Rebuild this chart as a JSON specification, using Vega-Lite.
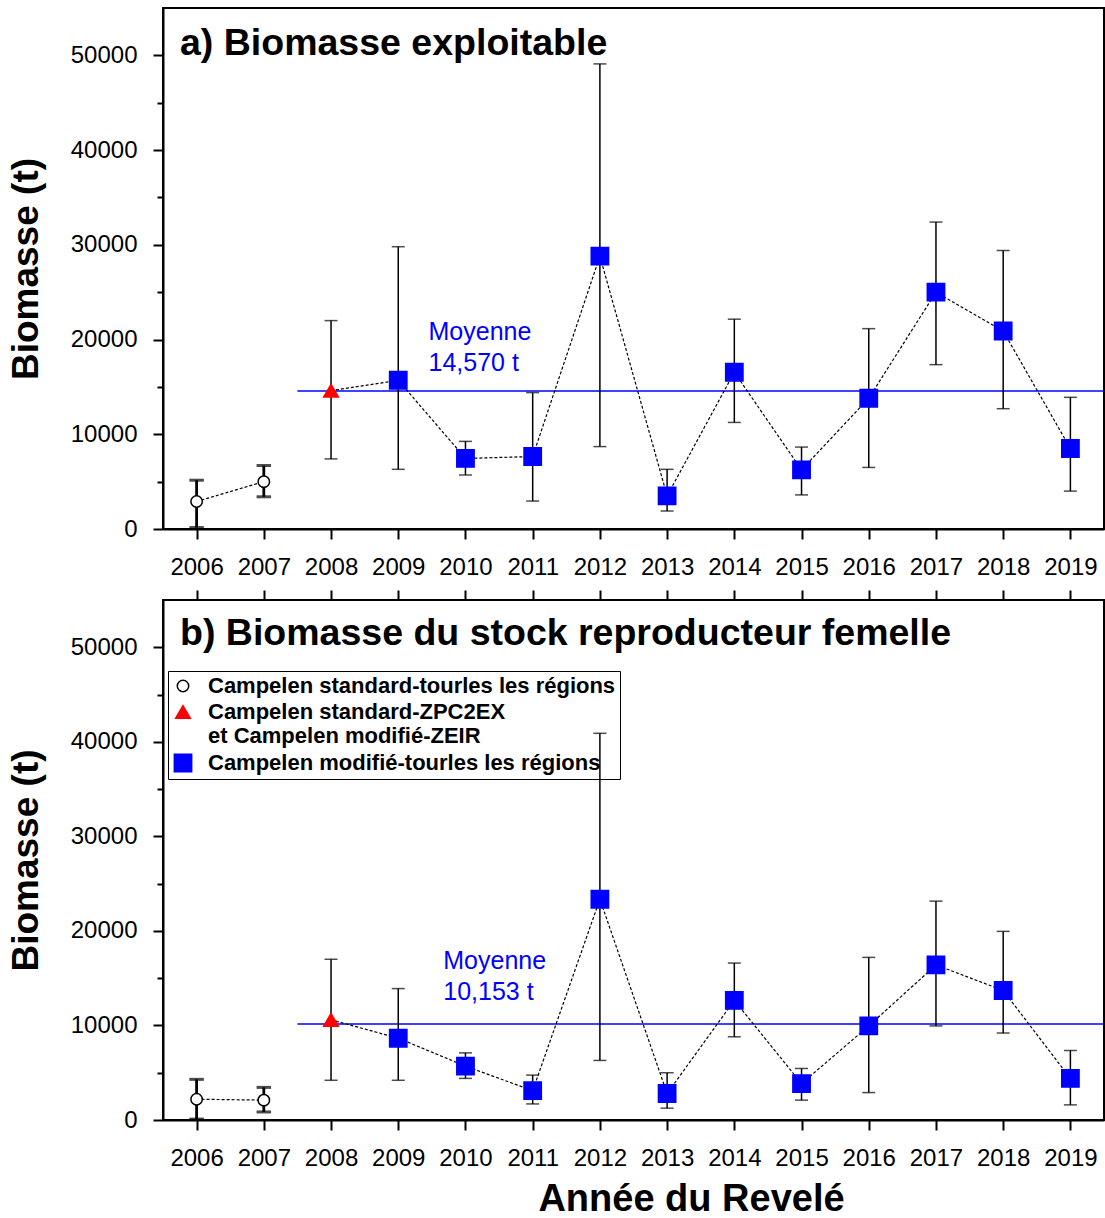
{
  "$schema": "https://vega.github.io/schema/vega-lite/v6.json",
  "padding": {"left": 6, "top": 7, "right": 0, "bottom": 0},
  "background": "white",
  "config": {
    "font": "Liberation Sans",
    "view": {"stroke": "black", "strokeWidth": 2},
    "axis": {
      "domainColor": "black", "domainWidth": 2, "tickColor": "black", "tickWidth": 2,
      "labelColor": "black", "titleColor": "black", "grid": false,
      "labelFont": "Liberation Sans", "titleFont": "Liberation Sans", "labelFontSize": 24
    }
  },
  "datasets": {
    "biomass": [
      {"panel": "a", "year": 2006, "value": 2900, "lo": 150, "hi": 5150, "period": "2006-2007", "series": "Campelen standard-tourles les régions"},
      {"panel": "a", "year": 2007, "value": 5000, "lo": 3400, "hi": 6700, "period": "2006-2007", "series": "Campelen standard-tourles les régions"},
      {"panel": "a", "year": 2008, "value": 14600, "lo": 7400, "hi": 22000, "period": "2008-2019", "series": "Campelen standard-ZPC2EX et Campelen modifié-ZEIR"},
      {"panel": "a", "year": 2009, "value": 15700, "lo": 6300, "hi": 29800, "period": "2008-2019", "series": "Campelen modifié-tourles les régions"},
      {"panel": "a", "year": 2010, "value": 7450, "lo": 5700, "hi": 9250, "period": "2008-2019", "series": "Campelen modifié-tourles les régions"},
      {"panel": "a", "year": 2011, "value": 7650, "lo": 2950, "hi": 14400, "period": "2008-2019", "series": "Campelen modifié-tourles les régions"},
      {"panel": "a", "year": 2012, "value": 28800, "lo": 8700, "hi": 49100, "period": "2008-2019", "series": "Campelen modifié-tourles les régions"},
      {"panel": "a", "year": 2013, "value": 3500, "lo": 1900, "hi": 6300, "period": "2008-2019", "series": "Campelen modifié-tourles les régions"},
      {"panel": "a", "year": 2014, "value": 16550, "lo": 11250, "hi": 22150, "period": "2008-2019", "series": "Campelen modifié-tourles les régions"},
      {"panel": "a", "year": 2015, "value": 6250, "lo": 3600, "hi": 8650, "period": "2008-2019", "series": "Campelen modifié-tourles les régions"},
      {"panel": "a", "year": 2016, "value": 13800, "lo": 6500, "hi": 21150, "period": "2008-2019", "series": "Campelen modifié-tourles les régions"},
      {"panel": "a", "year": 2017, "value": 25000, "lo": 17350, "hi": 32400, "period": "2008-2019", "series": "Campelen modifié-tourles les régions"},
      {"panel": "a", "year": 2018, "value": 20900, "lo": 12700, "hi": 29400, "period": "2008-2019", "series": "Campelen modifié-tourles les régions"},
      {"panel": "a", "year": 2019, "value": 8500, "lo": 4000, "hi": 13900, "period": "2008-2019", "series": "Campelen modifié-tourles les régions"},
      {"panel": "b", "year": 2006, "value": 2200, "lo": 100, "hi": 4300, "period": "2006-2007", "series": "Campelen standard-tourles les régions"},
      {"panel": "b", "year": 2007, "value": 2100, "lo": 850, "hi": 3450, "period": "2006-2007", "series": "Campelen standard-tourles les régions"},
      {"panel": "b", "year": 2008, "value": 10600, "lo": 4200, "hi": 17000, "period": "2008-2019", "series": "Campelen standard-ZPC2EX et Campelen modifié-ZEIR"},
      {"panel": "b", "year": 2009, "value": 8650, "lo": 4200, "hi": 13900, "period": "2008-2019", "series": "Campelen modifié-tourles les régions"},
      {"panel": "b", "year": 2010, "value": 5700, "lo": 4400, "hi": 7100, "period": "2008-2019", "series": "Campelen modifié-tourles les régions"},
      {"panel": "b", "year": 2011, "value": 3100, "lo": 1700, "hi": 4750, "period": "2008-2019", "series": "Campelen modifié-tourles les régions"},
      {"panel": "b", "year": 2012, "value": 23350, "lo": 6300, "hi": 40900, "period": "2008-2019", "series": "Campelen modifié-tourles les régions"},
      {"panel": "b", "year": 2013, "value": 2800, "lo": 1250, "hi": 5000, "period": "2008-2019", "series": "Campelen modifié-tourles les régions"},
      {"panel": "b", "year": 2014, "value": 12650, "lo": 8800, "hi": 16600, "period": "2008-2019", "series": "Campelen modifié-tourles les régions"},
      {"panel": "b", "year": 2015, "value": 3850, "lo": 2100, "hi": 5450, "period": "2008-2019", "series": "Campelen modifié-tourles les régions"},
      {"panel": "b", "year": 2016, "value": 9950, "lo": 2900, "hi": 17200, "period": "2008-2019", "series": "Campelen modifié-tourles les régions"},
      {"panel": "b", "year": 2017, "value": 16400, "lo": 9950, "hi": 23150, "period": "2008-2019", "series": "Campelen modifié-tourles les régions"},
      {"panel": "b", "year": 2018, "value": 13700, "lo": 9200, "hi": 19950, "period": "2008-2019", "series": "Campelen modifié-tourles les régions"},
      {"panel": "b", "year": 2019, "value": 4400, "lo": 1600, "hi": 7350, "period": "2008-2019", "series": "Campelen modifié-tourles les régions"}
    ],
    "means": [
      {"panel": "a", "mean": 14570, "start": 2007.5, "end": 2019.5},
      {"panel": "b", "mean": 10153, "start": 2007.5, "end": 2019.5}
    ],
    "titles": [
      {"panel": "a", "title": "a) Biomasse exploitable"},
      {"panel": "b", "title": "b) Biomasse du stock reproducteur femelle"}
    ]
  },
  "spacing": 71,
  "bounds": "flush",
  "resolve": {"legend": {"shape": "independent", "fill": "independent", "stroke": "independent", "size": "independent"}},
  "vconcat": [
    {
      "width": 941,
      "height": 521,
      "resolve": {"axis": {"x": "independent", "y": "independent"}},
      "layer": [
        {
          "data": {"name": "titles"},
          "transform": [{"filter": "datum.panel === 'a'"}],
          "mark": {"type": "text", "align": "left", "baseline": "alphabetic", "fontSize": 37.5, "fontWeight": "bold", "color": "black", "dx": 17, "dy": 47},
          "encoding": {
            "x": {"datum": 2005.5, "type": "quantitative", "scale": {"domain": [2005.5, 2019.5], "nice": false, "zero": false}, "axis": null},
            "y": {"datum": 55000, "type": "quantitative", "scale": {"domain": [0, 55000], "nice": false}, "axis": null},
            "text": {"field": "title"}
          }
        },
        {
          "data": {"name": "means"},
          "transform": [{"filter": "datum.panel === 'a'"}],
          "mark": {"type": "rule", "color": "blue", "strokeWidth": 1.5},
          "encoding": {
            "x": {"field": "start", "type": "quantitative", "scale": {"domain": [2005.5, 2019.5], "nice": false, "zero": false}, "axis": null},
            "x2": {"field": "end"},
            "y": {"field": "mean", "type": "quantitative", "scale": {"domain": [0, 55000], "nice": false}, "axis": null}
          }
        },
        {
          "data": {"name": "means"},
          "transform": [
            {"filter": "datum.panel === 'a'"},
            {"calculate": "'Moyenne\\n' + format(datum.mean, ',') + ' t'", "as": "label"}
          ],
          "mark": {"type": "text", "align": "left", "baseline": "alphabetic", "lineBreak": "\n", "lineHeight": 31, "fontSize": 25, "color": "blue", "dy": -51},
          "encoding": {
            "x": {"datum": 2009.45, "type": "quantitative", "scale": {"domain": [2005.5, 2019.5], "nice": false, "zero": false}, "axis": null},
            "y": {"field": "mean", "type": "quantitative", "scale": {"domain": [0, 55000], "nice": false}, "axis": null},
            "text": {"field": "label"}
          }
        },
        {
          "data": {"name": "biomass"},
          "transform": [{"filter": "datum.panel === 'a'"}],
          "mark": {"type": "rule", "color": "black"},
          "encoding": {
            "x": {"field": "year", "type": "quantitative", "scale": {"domain": [2005.5, 2019.5], "nice": false, "zero": false}, "axis": null},
            "y": {"field": "lo", "type": "quantitative", "scale": {"domain": [0, 55000], "nice": false}, "axis": null},
            "y2": {"field": "hi"},
            "strokeWidth": {"condition": {"test": "datum.series === 'Campelen standard-tourles les régions'", "value": 2.8}, "value": 1.5}
          }
        },
        {
          "data": {"name": "biomass"},
          "transform": [{"filter": "datum.panel === 'a'"}, {"fold": ["lo", "hi"], "as": ["end", "cap"]}],
          "mark": {"type": "tick", "orient": "horizontal", "color": "black", "stroke": "black", "thickness": 1.5, "size": 13},
          "encoding": {
            "x": {"field": "year", "type": "quantitative", "scale": {"domain": [2005.5, 2019.5], "nice": false, "zero": false}, "axis": null},
            "y": {"field": "cap", "type": "quantitative", "scale": {"domain": [0, 55000], "nice": false}, "axis": null},
            "strokeWidth": {"condition": {"test": "datum.series === 'Campelen standard-tourles les régions'", "value": 1.5}, "value": 0}
          }
        },
        {
          "data": {"name": "biomass"},
          "transform": [{"filter": "datum.panel === 'a'"}],
          "mark": {"type": "line", "color": "black", "strokeWidth": 1.2, "strokeDash": [3, 2]},
          "encoding": {
            "x": {"field": "year", "type": "quantitative", "scale": {"domain": [2005.5, 2019.5], "nice": false, "zero": false}, "axis": null},
            "y": {"field": "value", "type": "quantitative", "scale": {"domain": [0, 55000], "nice": false}, "axis": null},
            "detail": {"field": "period", "type": "nominal"}
          }
        },
        {
          "data": {"name": "biomass"},
          "transform": [{"filter": "datum.panel === 'a'"}],
          "mark": {"type": "point", "filled": true, "opacity": 1, "strokeWidth": 1.5},
          "encoding": {
            "x": {"field": "year", "type": "quantitative", "scale": {"domain": [2005.5, 2019.5], "nice": false, "zero": false},
              "axis": {"orient": "bottom", "values": [2006, 2007, 2008, 2009, 2010, 2011, 2012, 2013, 2014, 2015, 2016, 2017, 2018, 2019], "format": "d", "title": null, "tickSize": 10, "labelPadding": 16, "labelFlush": false, "labelOverlap": false}},
            "y": {"field": "value", "type": "quantitative", "scale": {"domain": [0, 55000], "nice": false},
              "axis": {"orient": "left", "values": [0, 5000, 10000, 15000, 20000, 25000, 30000, 35000, 40000, 45000, 50000], "format": "d",
                "labelExpr": "datum.value % 10000 === 0 ? datum.label : ''",
                "tickSize": {"condition": {"test": "datum.value % 10000 === 0", "value": 10}, "value": 6},
                "title": "Biomasse (t)", "titleFontSize": 37, "titleFontWeight": "bold", "titlePadding": 25, "labelPadding": 16}},
            "shape": {"field": "series", "type": "nominal", "scale": {"domain": ["Campelen standard-tourles les régions", "Campelen standard-ZPC2EX et Campelen modifié-ZEIR", "Campelen modifié-tourles les régions"], "range": ["circle", "triangle-up", "square"]}, "legend": null},
            "fill": {"field": "series", "type": "nominal", "scale": {"domain": ["Campelen standard-tourles les régions", "Campelen standard-ZPC2EX et Campelen modifié-ZEIR", "Campelen modifié-tourles les régions"], "range": ["white", "red", "blue"]}, "legend": null},
            "stroke": {"field": "series", "type": "nominal", "scale": {"domain": ["Campelen standard-tourles les régions", "Campelen standard-ZPC2EX et Campelen modifié-ZEIR", "Campelen modifié-tourles les régions"], "range": ["black", "red", "blue"]}, "legend": null},
            "size": {"field": "series", "type": "nominal", "scale": {"domain": ["Campelen standard-tourles les régions", "Campelen standard-ZPC2EX et Campelen modifié-ZEIR", "Campelen modifié-tourles les régions"], "range": [130, 300, 200]}, "legend": null}
          }
        }
      ]
    },
    {
      "width": 941,
      "height": 520,
      "resolve": {"axis": {"x": "independent", "y": "independent"}},
      "layer": [
        {
          "data": {"name": "titles"},
          "transform": [{"filter": "datum.panel === 'b'"}],
          "mark": {"type": "text", "align": "left", "baseline": "alphabetic", "fontSize": 37.5, "fontWeight": "bold", "color": "black", "dx": 17, "dy": 45},
          "encoding": {
            "x": {"datum": 2005.5, "type": "quantitative", "scale": {"domain": [2005.5, 2019.5], "nice": false, "zero": false}, "axis": null},
            "y": {"datum": 55000, "type": "quantitative", "scale": {"domain": [0, 55000], "nice": false}, "axis": null},
            "text": {"field": "title"}
          }
        },
        {
          "data": {"name": "means"},
          "transform": [{"filter": "datum.panel === 'b'"}],
          "mark": {"type": "rule", "color": "blue", "strokeWidth": 1.5},
          "encoding": {
            "x": {"field": "start", "type": "quantitative", "scale": {"domain": [2005.5, 2019.5], "nice": false, "zero": false}, "axis": null},
            "x2": {"field": "end"},
            "y": {"field": "mean", "type": "quantitative", "scale": {"domain": [0, 55000], "nice": false}, "axis": null}
          }
        },
        {
          "data": {"name": "means"},
          "transform": [
            {"filter": "datum.panel === 'b'"},
            {"calculate": "'Moyenne\\n' + format(datum.mean, ',') + ' t'", "as": "label"}
          ],
          "mark": {"type": "text", "align": "left", "baseline": "alphabetic", "lineBreak": "\n", "lineHeight": 31, "fontSize": 25, "color": "blue", "dy": -55},
          "encoding": {
            "x": {"datum": 2009.67, "type": "quantitative", "scale": {"domain": [2005.5, 2019.5], "nice": false, "zero": false}, "axis": null},
            "y": {"field": "mean", "type": "quantitative", "scale": {"domain": [0, 55000], "nice": false}, "axis": null},
            "text": {"field": "label"}
          }
        },
        {
          "data": {"name": "biomass"},
          "transform": [{"filter": "datum.panel === 'b'"}],
          "mark": {"type": "rule", "color": "black"},
          "encoding": {
            "x": {"field": "year", "type": "quantitative", "scale": {"domain": [2005.5, 2019.5], "nice": false, "zero": false}, "axis": null},
            "y": {"field": "lo", "type": "quantitative", "scale": {"domain": [0, 55000], "nice": false}, "axis": null},
            "y2": {"field": "hi"},
            "strokeWidth": {"condition": {"test": "datum.series === 'Campelen standard-tourles les régions'", "value": 2.8}, "value": 1.5}
          }
        },
        {
          "data": {"name": "biomass"},
          "transform": [{"filter": "datum.panel === 'b'"}, {"fold": ["lo", "hi"], "as": ["end", "cap"]}],
          "mark": {"type": "tick", "orient": "horizontal", "color": "black", "stroke": "black", "thickness": 1.5, "size": 13},
          "encoding": {
            "x": {"field": "year", "type": "quantitative", "scale": {"domain": [2005.5, 2019.5], "nice": false, "zero": false},
              "axis": {"orient": "top", "values": [2006, 2007, 2008, 2009, 2010, 2011, 2012, 2013, 2014, 2015, 2016, 2017, 2018, 2019], "labels": false, "domain": false, "tickSize": 10, "title": null}},
            "y": {"field": "cap", "type": "quantitative", "scale": {"domain": [0, 55000], "nice": false}, "axis": null},
            "strokeWidth": {"condition": {"test": "datum.series === 'Campelen standard-tourles les régions'", "value": 1.5}, "value": 0}
          }
        },
        {
          "data": {"name": "biomass"},
          "transform": [{"filter": "datum.panel === 'b'"}],
          "mark": {"type": "line", "color": "black", "strokeWidth": 1.2, "strokeDash": [3, 2]},
          "encoding": {
            "x": {"field": "year", "type": "quantitative", "scale": {"domain": [2005.5, 2019.5], "nice": false, "zero": false}, "axis": null},
            "y": {"field": "value", "type": "quantitative", "scale": {"domain": [0, 55000], "nice": false}, "axis": null},
            "detail": {"field": "period", "type": "nominal"}
          }
        },
        {
          "data": {"name": "biomass"},
          "transform": [{"filter": "datum.panel === 'b'"}],
          "mark": {"type": "point", "filled": true, "opacity": 1, "strokeWidth": 1.5},
          "encoding": {
            "x": {"field": "year", "type": "quantitative", "scale": {"domain": [2005.5, 2019.5], "nice": false, "zero": false},
              "axis": {"orient": "bottom", "values": [2006, 2007, 2008, 2009, 2010, 2011, 2012, 2013, 2014, 2015, 2016, 2017, 2018, 2019], "format": "d", "tickSize": 10, "labelPadding": 16, "labelFlush": false, "labelOverlap": false,
                "title": "Année du Revelé", "titleFontSize": 38, "titleFontWeight": "bold", "titleX": 528, "titlePadding": 10}},
            "y": {"field": "value", "type": "quantitative", "scale": {"domain": [0, 55000], "nice": false},
              "axis": {"orient": "left", "values": [0, 5000, 10000, 15000, 20000, 25000, 30000, 35000, 40000, 45000, 50000], "format": "d",
                "labelExpr": "datum.value % 10000 === 0 ? datum.label : ''",
                "tickSize": {"condition": {"test": "datum.value % 10000 === 0", "value": 10}, "value": 6},
                "title": "Biomasse (t)", "titleFontSize": 37, "titleFontWeight": "bold", "titlePadding": 25, "labelPadding": 16}},
            "shape": {"field": "series", "type": "nominal", "scale": {"domain": ["Campelen standard-tourles les régions", "Campelen standard-ZPC2EX et Campelen modifié-ZEIR", "Campelen modifié-tourles les régions"], "range": ["circle", "triangle-up", "square"]},
              "legend": {"title": null, "orient": "none", "legendX": 5, "legendY": 71, "direction": "vertical", "labelFontSize": 22, "labelFontWeight": "bold", "labelLimit": 600, "labelOffset": 14, "padding": 4, "rowPadding": 4, "strokeColor": "black", "symbolStrokeWidth": 1.5,
                "labelExpr": "datum.label === 'Campelen standard-ZPC2EX et Campelen modifié-ZEIR' ? ['Campelen standard-ZPC2EX', 'et Campelen modifié-ZEIR'] : datum.label"}},
            "fill": {"field": "series", "type": "nominal", "scale": {"domain": ["Campelen standard-tourles les régions", "Campelen standard-ZPC2EX et Campelen modifié-ZEIR", "Campelen modifié-tourles les régions"], "range": ["white", "red", "blue"]},
              "legend": {"title": null, "orient": "none", "legendX": 5, "legendY": 71, "direction": "vertical", "labelFontSize": 22, "labelFontWeight": "bold", "labelLimit": 600, "labelOffset": 14, "padding": 4, "rowPadding": 4, "strokeColor": "black", "symbolStrokeWidth": 1.5,
                "labelExpr": "datum.label === 'Campelen standard-ZPC2EX et Campelen modifié-ZEIR' ? ['Campelen standard-ZPC2EX', 'et Campelen modifié-ZEIR'] : datum.label"}},
            "stroke": {"field": "series", "type": "nominal", "scale": {"domain": ["Campelen standard-tourles les régions", "Campelen standard-ZPC2EX et Campelen modifié-ZEIR", "Campelen modifié-tourles les régions"], "range": ["black", "red", "blue"]},
              "legend": {"title": null, "orient": "none", "legendX": 5, "legendY": 71, "direction": "vertical", "labelFontSize": 22, "labelFontWeight": "bold", "labelLimit": 600, "labelOffset": 14, "padding": 4, "rowPadding": 4, "strokeColor": "black", "symbolStrokeWidth": 1.5,
                "labelExpr": "datum.label === 'Campelen standard-ZPC2EX et Campelen modifié-ZEIR' ? ['Campelen standard-ZPC2EX', 'et Campelen modifié-ZEIR'] : datum.label"}},
            "size": {"field": "series", "type": "nominal", "scale": {"domain": ["Campelen standard-tourles les régions", "Campelen standard-ZPC2EX et Campelen modifié-ZEIR", "Campelen modifié-tourles les régions"], "range": [130, 300, 200]},
              "legend": {"title": null, "orient": "none", "legendX": 5, "legendY": 71, "direction": "vertical", "labelFontSize": 22, "labelFontWeight": "bold", "labelLimit": 600, "labelOffset": 14, "padding": 4, "rowPadding": 4, "strokeColor": "black", "symbolStrokeWidth": 1.5,
                "labelExpr": "datum.label === 'Campelen standard-ZPC2EX et Campelen modifié-ZEIR' ? ['Campelen standard-ZPC2EX', 'et Campelen modifié-ZEIR'] : datum.label"}}
          }
        }
      ]
    }
  ]
}
